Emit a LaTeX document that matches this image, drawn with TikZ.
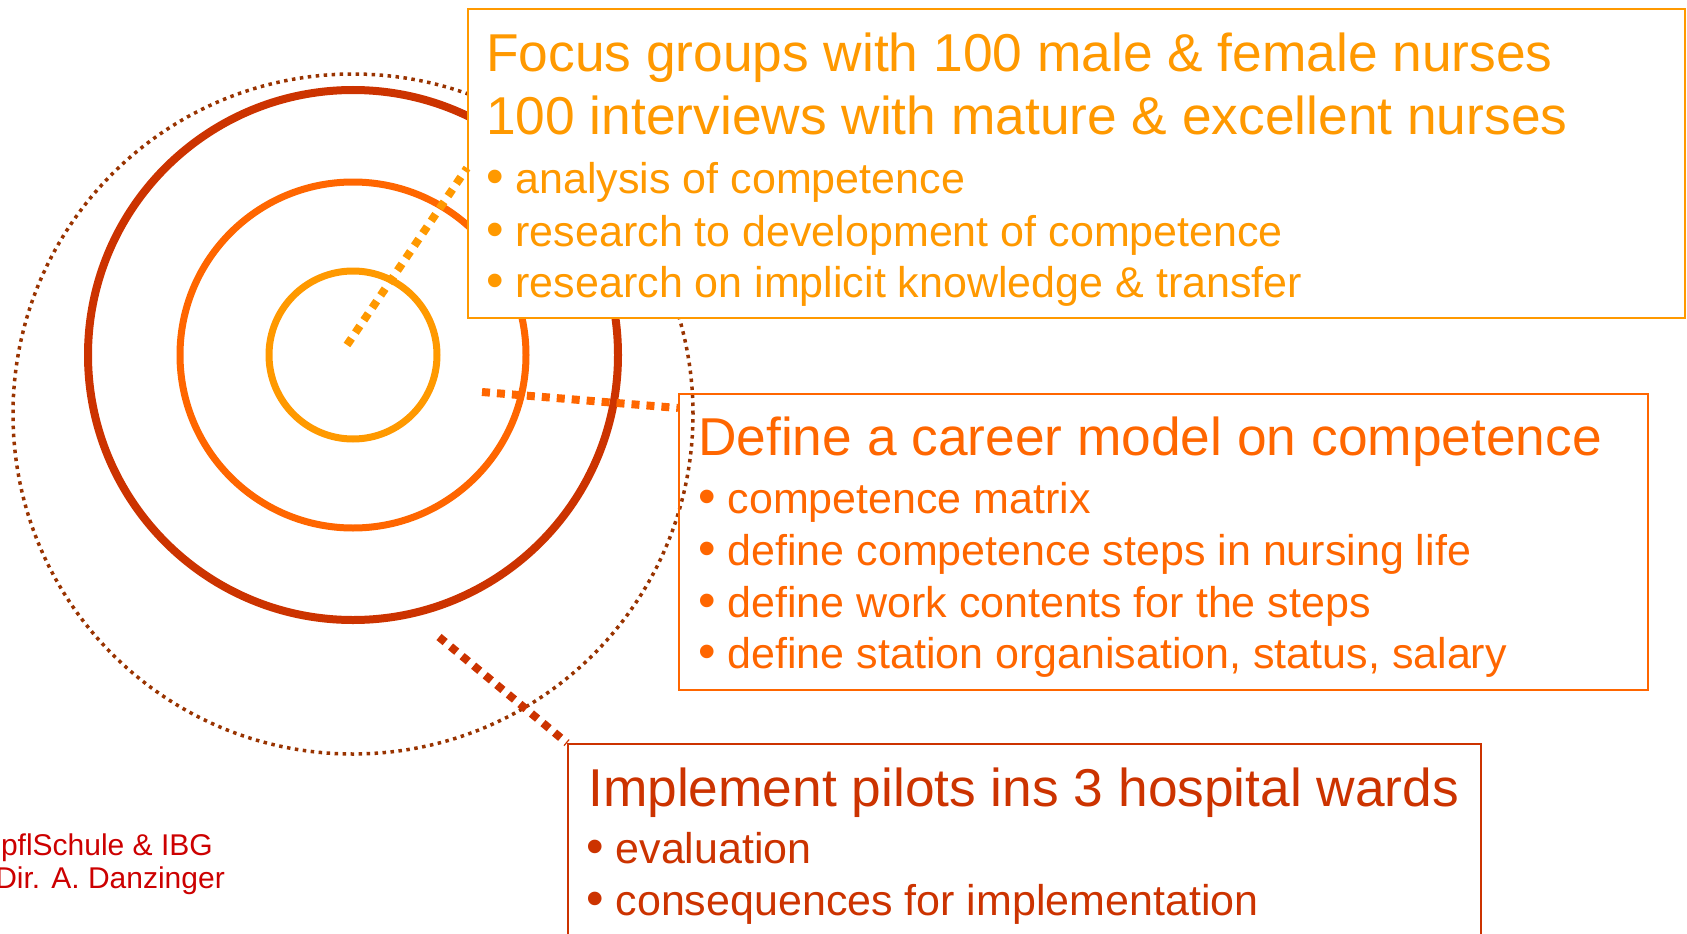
\documentclass[tikz,border=0pt]{standalone}
\usepackage{fontspec}
\setmainfont{Liberation Sans}
\usetikzlibrary{positioning}
\definecolor{ringgold}{HTML}{FF9900}
\definecolor{ringflame}{HTML}{FF6600}
\definecolor{ringrust}{HTML}{CC3300}
\definecolor{ringbrown}{HTML}{993300}
\definecolor{footred}{HTML}{CC0000}
\newcommand{\dotmark}{{\fontsize{50}{50}\selectfont •}}

\begin{document}
\begin{tikzpicture}
[
x=1pt, y=-1pt,
box/.style={rectangle, draw, line width=2pt, anchor=north west, inner sep=0pt},
head/.style={anchor=base west, inner sep=0pt, font=\fontsize{53.3}{60}\selectfont},
item/.style={anchor=base west, inner sep=0pt, font=\fontsize{43}{50}\selectfont},
foot/.style={anchor=base east, inner sep=0pt, text=footred, font=\fontsize{30}{34}\selectfont},
ring/.style={line width=7pt},
link/.style={line width=8pt, dash pattern=on 8pt off 7pt}
]
\useasboundingbox (0,0) rectangle (1687,934);

\coordinate (core) at (353,355);
\draw[ring, ringgold] (core) circle[radius=84pt];
\draw[ring, ringflame] (core) circle[radius=173pt];
\draw[ring, ringrust, line width=8pt] (core) circle[radius=265pt];
\draw[ringbrown, line width=3.5pt, dash pattern=on 3.5pt off 4.5pt] (353,414) circle[radius=340pt];

\node[box, ringgold, fill=white, minimum width=1217pt, minimum height=309pt] (focus) at (467,8) {};
\node[box, ringflame, minimum width=969pt, minimum height=296pt] (career) at (678,393) {};
\node[box, ringrust, fill=white, minimum width=913pt, minimum height=220pt] (pilots) at (567,743) {};

\node[head, ringgold] (focus1) at (486,71) {Focus groups with 100 male \& female nurses};
\node[head, ringgold] (focus2) at (486,134) {100 interviews with mature \& excellent nurses};
\node[item, ringgold] (focus3) at (486,193) {\dotmark\ analysis of competence};
\node[item, ringgold] (focus4) at (486,246) {\dotmark\ research to development of competence};
\node[item, ringgold] (focus5) at (486,297) {\dotmark\ research on implicit knowledge \& transfer};

\node[head, ringflame] (career1) at (698,455) {Define a career model on competence};
\node[item, ringflame] (career2) at (698,513) {\dotmark\ competence matrix};
\node[item, ringflame] (career3) at (698,565) {\dotmark\ define competence steps in nursing life};
\node[item, ringflame] (career4) at (698,617) {\dotmark\ define work contents for the steps};
\node[item, ringflame] (career5) at (698,668) {\dotmark\ define station organisation, status, salary};

\node[head, ringrust] (pilots1) at (588,806) {Implement pilots ins 3 hospital wards};
\node[item, ringrust] (pilots2) at (586,863) {\dotmark\ evaluation};
\node[item, ringrust] (pilots3) at (586,915) {\dotmark\ consequences for implementation};

\coordinate (focus-from) at (347,345);
\coordinate[below=160pt of focus.north west] (focus-to);
\draw[link, ringgold] (focus-from) -- (focus-to);
\coordinate (career-from) at (482,392);
\coordinate[below=15pt of career.north west] (career-to);
\draw[link, ringflame] (career-from) -- (career-to);
\coordinate (pilots-from) at (439,637);
\draw[link, ringrust] (pilots-from) -- (pilots.north west);

\node[foot] (school) at (213,855) {pflSchule \& IBG};
\node[foot] (director) at (225,888) {Dir. A. Danzinger};
\end{tikzpicture}
\end{document}
